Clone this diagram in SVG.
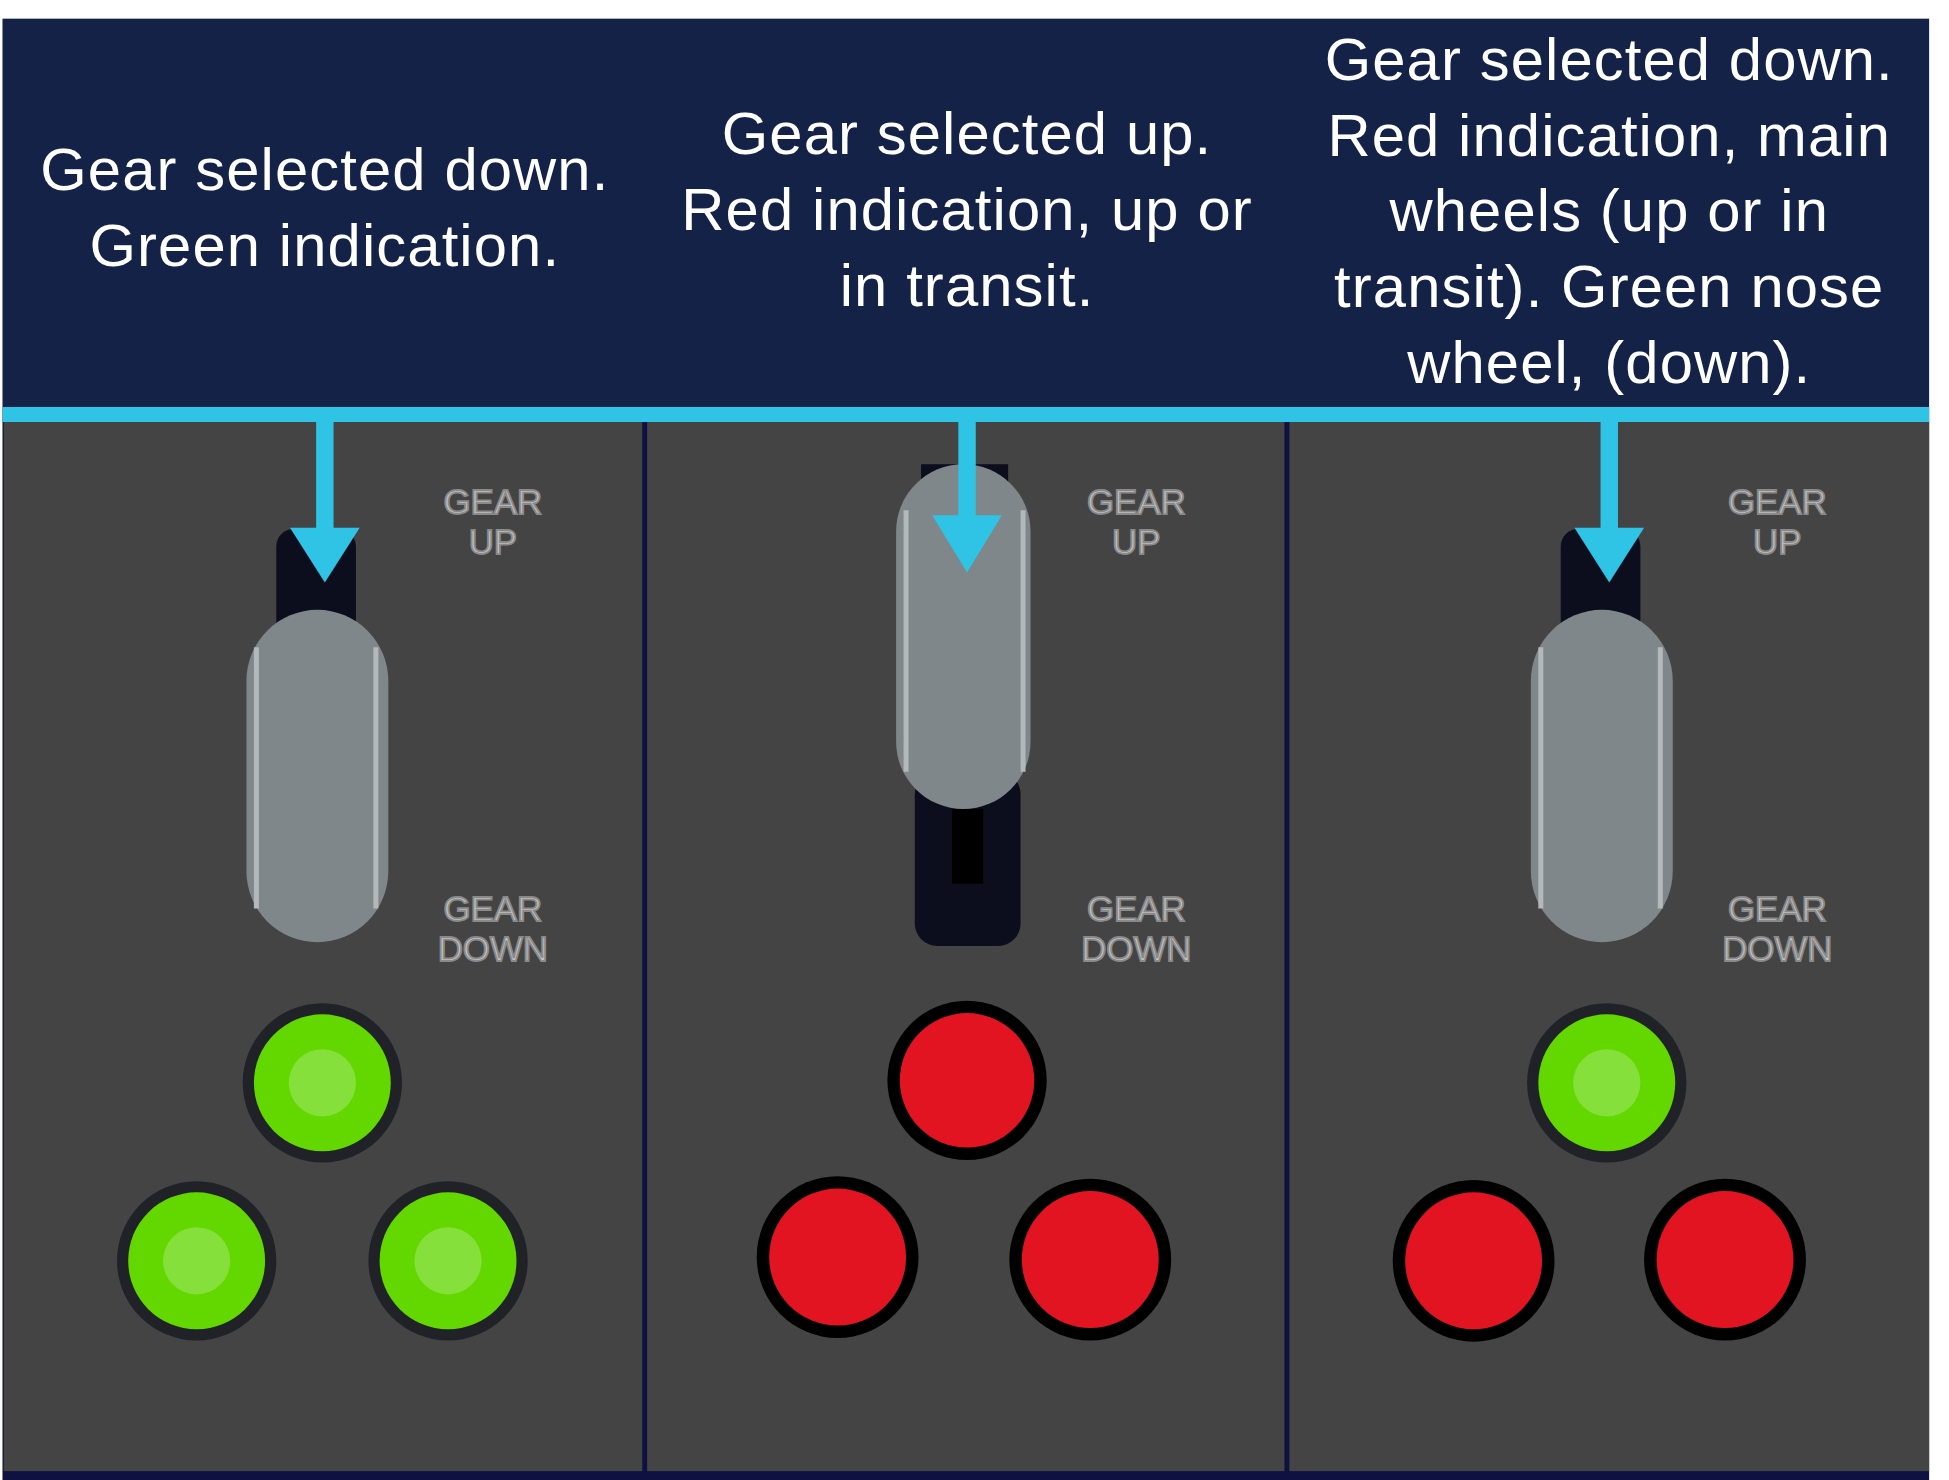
<svg xmlns="http://www.w3.org/2000/svg" width="1949" height="1480" viewBox="0 0 1949 1480">
<defs>
<style>
.cap{font-family:"Liberation Sans",Arial,sans-serif;font-size:48px;letter-spacing:0.9px;fill:#fff;text-anchor:middle}
.lab{font-family:"Liberation Sans",Arial,sans-serif;font-size:28px;fill:#c4c4c4;text-anchor:middle;stroke:#8a8a8a;stroke-width:1.5}
.panel{fill:#444444}
.lever{fill:#80878a}
.stripe{stroke:#b3b8ba;stroke-width:4}
.slot{fill:#0c0e1e}
.arrow{stroke:#2fc3e6;stroke-width:14}
.ahead{fill:#2fc3e6}
.gring{fill:#202228}
.green{fill:#63d800}
.gcore{fill:#86e03c}
.rring{fill:#000}
.red{fill:#e31422}
</style>
</defs>
<rect width="1949" height="1480" fill="#fff"/>
<g transform="scale(1.2446)">
<rect x="2" y="15" width="1548" height="320" fill="#142248"/>
<rect x="2" y="335" width="1548" height="855" fill="#0f1240"/>
<g id="panel1">
<rect class="panel" x="3" y="338" width="513" height="844"/>
<rect class="slot" x="222" y="425" width="64" height="90" rx="14"/>
<rect class="lever" x="198" y="490" width="114" height="267" rx="57"/>
<line class="stripe" x1="206" y1="520" x2="206" y2="730"/><line class="stripe" x1="302" y1="520" x2="302" y2="730"/>
<text class="lab" x="396" y="413">GEAR</text><text class="lab" x="396" y="445">UP</text>
<text class="lab" x="396" y="740">GEAR</text><text class="lab" x="396" y="772">DOWN</text>
<circle class="gring" cx="259" cy="870" r="64"/><circle class="green" cx="259" cy="870" r="55"/><circle class="gcore" cx="259" cy="870" r="27"/>
<circle class="gring" cx="158" cy="1013" r="64"/><circle class="green" cx="158" cy="1013" r="55"/><circle class="gcore" cx="158" cy="1013" r="27"/>
<circle class="gring" cx="360" cy="1013" r="64"/><circle class="green" cx="360" cy="1013" r="55"/><circle class="gcore" cx="360" cy="1013" r="27"/>
<text class="cap" x="261" y="153">Gear selected down.</text>
<text class="cap" x="261" y="214">Green indication.</text>
</g>
<g id="panel2">
<rect class="panel" x="520" y="338" width="512" height="844"/>
<rect class="slot" x="735" y="620" width="85" height="140" rx="18"/>
<rect fill="#000" x="765" y="650" width="25" height="60"/>
<rect class="slot" x="740" y="373" width="70" height="20"/>
<rect class="lever" x="720" y="373" width="108" height="277" rx="54"/>
<line class="stripe" x1="728" y1="410" x2="728" y2="620"/><line class="stripe" x1="822" y1="410" x2="822" y2="620"/>
<text class="lab" x="913" y="413">GEAR</text><text class="lab" x="913" y="445">UP</text>
<text class="lab" x="913" y="740">GEAR</text><text class="lab" x="913" y="772">DOWN</text>
<circle class="rring" cx="777" cy="868" r="64"/><circle class="red" cx="777" cy="868" r="54"/>
<circle class="rring" cx="673" cy="1010" r="65"/><circle class="red" cx="673" cy="1010" r="55"/>
<circle class="rring" cx="876" cy="1012" r="65"/><circle class="red" cx="876" cy="1012" r="55"/>
<text class="cap" x="777" y="124">Gear selected up.</text>
<text class="cap" x="777" y="185">Red indication, up or</text>
<text class="cap" x="777" y="246">in transit.</text>
</g>
<g id="panel3">
<rect class="panel" x="1036" y="338" width="514" height="844"/>
<rect class="slot" x="1254" y="425" width="64" height="90" rx="14"/>
<rect class="lever" x="1230" y="490" width="114" height="267" rx="57"/>
<line class="stripe" x1="1238" y1="520" x2="1238" y2="730"/><line class="stripe" x1="1334" y1="520" x2="1334" y2="730"/>
<text class="lab" x="1428" y="413">GEAR</text><text class="lab" x="1428" y="445">UP</text>
<text class="lab" x="1428" y="740">GEAR</text><text class="lab" x="1428" y="772">DOWN</text>
<circle class="gring" cx="1291" cy="870" r="64"/><circle class="green" cx="1291" cy="870" r="55"/><circle class="gcore" cx="1291" cy="870" r="27"/>
<circle class="rring" cx="1184" cy="1013" r="65"/><circle class="red" cx="1184" cy="1013" r="55"/>
<circle class="rring" cx="1386" cy="1012" r="65"/><circle class="red" cx="1386" cy="1012" r="55"/>
<text class="cap" x="1293" y="64">Gear selected down.</text>
<text class="cap" x="1293" y="125">Red indication, main</text>
<text class="cap" x="1293" y="186">wheels (up or in</text>
<text class="cap" x="1293" y="247">transit). Green nose</text>
<text class="cap" x="1293" y="308">wheel, (down).</text>
</g>
<g id="connectors">
<line x1="2" y1="333" x2="1550" y2="333" stroke="#2fc3e6" stroke-width="12"/>
<line class="arrow" x1="261" y1="333" x2="261" y2="430"/><polygon class="ahead" points="233,424 289,424 261,468"/>
<line class="arrow" x1="777" y1="333" x2="777" y2="420"/><polygon class="ahead" points="749,414 805,414 777,460"/>
<line class="arrow" x1="1293" y1="333" x2="1293" y2="430"/><polygon class="ahead" points="1265,424 1321,424 1293,468"/>
</g>
</g>
</svg>
